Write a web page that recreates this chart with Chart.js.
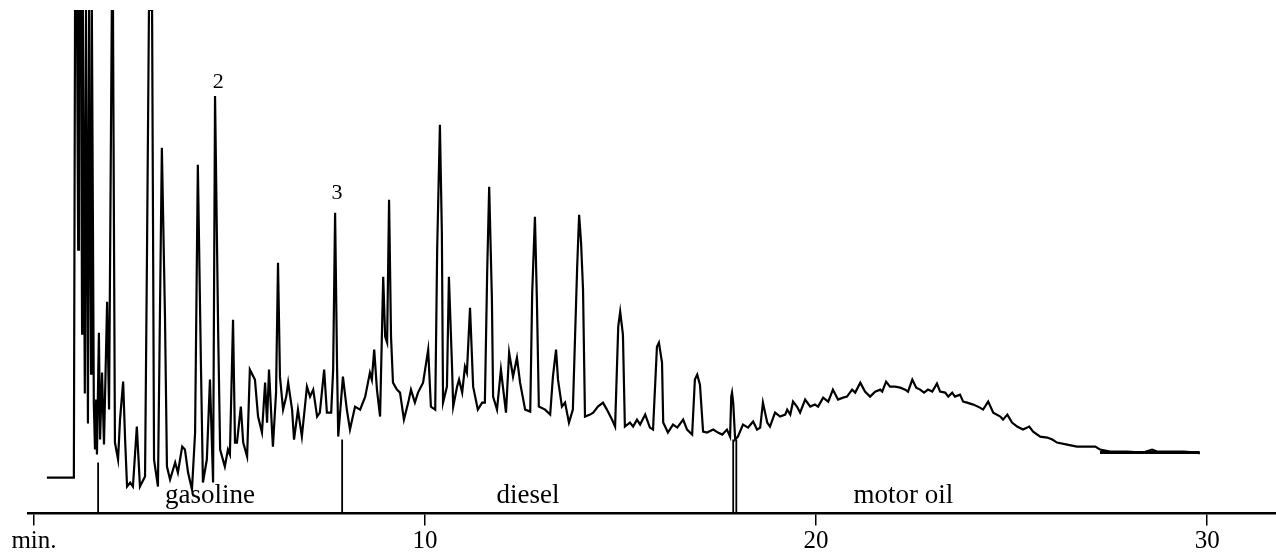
<!DOCTYPE html>
<html>
<head>
<meta charset="utf-8">
<script src="https://cdn.jsdelivr.net/npm/chart.js@4.4.1/dist/chart.umd.min.js"></script>
<style>
  html, body { margin: 0; padding: 0; background: #fff; }
  canvas { display: block; }
</style>
</head>
<body>
<canvas id="myChart" width="1276" height="557"></canvas>
<script>
// retention time (min) / detector response
var times = [
    0.33, 1.00, 1.02, 1.05, 1.10, 1.13, 1.15, 1.20, 1.23, 1.25,
    1.30, 1.33, 1.38, 1.41, 1.46, 1.48, 1.53, 1.56, 1.59, 1.61,
    1.66, 1.69, 1.74, 1.79, 1.87, 1.92, 1.99, 2.02, 2.07, 2.15,
    2.20, 2.28, 2.33, 2.38, 2.46, 2.53, 2.63, 2.71, 2.84, 2.89,
    2.94, 3.02, 3.07, 3.17, 3.27, 3.35, 3.40, 3.48, 3.61, 3.68,
    3.79, 3.86, 3.94, 4.04, 4.12, 4.19, 4.27, 4.32, 4.42, 4.50,
    4.58, 4.63, 4.71, 4.76, 4.88, 4.96, 5.01, 5.09, 5.14, 5.19,
    5.29, 5.35, 5.45, 5.52, 5.65, 5.73, 5.83, 5.91, 5.96, 6.01,
    6.09, 6.11, 6.19, 6.24, 6.29, 6.37, 6.45, 6.50, 6.60, 6.65,
    6.75, 6.85, 6.98, 7.06, 7.14, 7.24, 7.31, 7.42, 7.49, 7.60,
    7.65, 7.70, 7.75, 7.78, 7.90, 8.00, 8.08, 8.21, 8.34, 8.47,
    8.59, 8.64, 8.70, 8.77, 8.85, 8.93, 8.98, 9.03, 9.08, 9.13,
    9.18, 9.28, 9.36, 9.46, 9.57, 9.64, 9.74, 9.82, 9.95, 10.08,
    10.15, 10.26, 10.31, 10.38, 10.43, 10.46, 10.56, 10.61, 10.69, 10.72,
    10.82, 10.87, 10.95, 11.02, 11.07, 11.15, 11.23, 11.35, 11.46, 11.53,
    11.59, 11.64, 11.71, 11.74, 11.84, 11.94, 12.00, 12.07, 12.15, 12.25,
    12.35, 12.43, 12.56, 12.69, 12.74, 12.81, 12.86, 12.91, 13.07, 13.20,
    13.27, 13.35, 13.40, 13.50, 13.58, 13.68, 13.78, 13.89, 13.94, 13.99,
    14.04, 14.09, 14.22, 14.30, 14.42, 14.55, 14.65, 14.78, 14.86, 14.94,
    14.99, 15.06, 15.11, 15.24, 15.32, 15.42, 15.50, 15.63, 15.75, 15.83,
    15.93, 15.98, 16.06, 16.09, 16.21, 16.34, 16.45, 16.60, 16.70, 16.83,
    16.90, 16.96, 17.03, 17.11, 17.21, 17.37, 17.49, 17.60, 17.72, 17.80,
    17.83, 17.85, 17.88, 17.93, 18.00, 18.13, 18.26, 18.39, 18.49, 18.57,
    18.64, 18.75, 18.82, 18.95, 19.08, 19.21, 19.26, 19.34, 19.41, 19.51,
    19.59, 19.72, 19.85, 19.97, 20.05, 20.18, 20.31, 20.43, 20.56, 20.69,
    20.79, 20.92, 21.00, 21.13, 21.25, 21.38, 21.51, 21.64, 21.69, 21.79,
    21.89, 22.02, 22.15, 22.28, 22.35, 22.46, 22.56, 22.66, 22.76, 22.86,
    22.97, 23.09, 23.17, 23.30, 23.38, 23.48, 23.55, 23.68, 23.76, 23.86,
    24.02, 24.19, 24.27, 24.40, 24.53, 24.71, 24.78, 24.89, 25.01, 25.14,
    25.29, 25.45, 25.55, 25.73, 25.91, 26.04, 26.16, 26.42, 26.67, 26.93,
    27.14, 27.26, 27.52, 27.95, 28.36, 28.59, 28.72, 28.98, 29.39, 29.74,
    29.81
];
var response = [
    36, 36, 42, 504, 504, 264, 504, 504, 180, 504,
    120, 504, 90, 504, 140, 504, 110, 64, 114, 59,
    181, 74, 141, 69, 212, 104, 504, 504, 71, 54,
    94, 132, 74, 27, 31, 27, 87, 27, 37, 261,
    504, 504, 54, 27, 366, 197, 47, 34, 51, 41,
    67, 64, 41, 24, 81, 349, 147, 31, 54, 134,
    31, 418, 181, 64, 47, 64, 59, 194, 71, 71,
    107, 71, 57, 144, 134, 97, 81, 131, 91, 144,
    81, 67, 121, 251, 137, 104, 117, 131, 104, 74,
    104, 77, 127, 117, 124, 97, 101, 144, 101, 101,
    144, 301, 147, 77, 137, 104, 84, 107, 104, 117,
    141, 134, 164, 124, 97, 237, 177, 171, 314, 177,
    131, 124, 121, 94, 111, 124, 111, 121, 131, 164,
    107, 104, 264, 389, 281, 111, 127, 237, 147, 107,
    127, 134, 121, 147, 141, 206, 127, 104, 111, 111,
    244, 327, 214, 117, 104, 144, 124, 101, 161, 137,
    156, 131, 104, 102, 221, 297, 214, 107, 104, 99,
    137, 164, 134, 107, 111, 91, 104, 247, 299, 271,
    224, 97, 99, 101, 107, 111, 104, 94, 87, 187,
    202, 179, 87, 91, 87, 94, 89, 99, 86, 84,
    167, 171, 151, 91, 81, 89, 86, 94, 84, 79,
    134, 139, 129, 82, 81, 84, 81, 79, 84, 77,
    117, 121, 111, 74, 77, 89, 86, 92, 84, 86,
    111, 91, 87, 101, 97, 99, 104, 99, 112, 107,
    101, 114, 107, 109, 107, 116, 112, 124, 114, 116,
    117, 124, 121, 131, 122, 117, 122, 124, 122, 132,
    127, 127, 126, 124, 122, 134, 126, 124, 121, 124,
    122, 130, 122, 121, 117, 121, 117, 119, 112, 111,
    109, 106, 104, 112, 101, 97, 94, 99, 91, 87,
    84, 87, 82, 77, 76, 74, 71, 69, 67, 67,
    67, 64, 62, 62, 61, 64, 62, 62, 62, 61,
    60
];

var tickValues = [0, 10, 20, 30];

// fraction cut lines (motor oil cut is a double line)
var cutTimes = [1.64, 7.88, 17.88, 17.96];
var cutTops = [51, 74, 74, 74];

var regionNames = ['gasoline', 'diesel', 'motor oil'];
var regionLabelAt = [4.50, 12.63, 22.23];
var regionLabelLevel = 11;

var peakNames = ['2', '3'];
var peakTimes = [4.71, 7.75];
var peakLabelLevel = [426, 315];

var baselineTimes = [27.26, 29.81];
var baselineLevel = [61, 61];


var trace = times.map(function(t, i){ return {x: t, y: response[i]}; });

var datasets = [{
    data: trace,
    borderColor: '#000',
    borderWidth: 2.2,
    pointRadius: 0,
    tension: 0
}];

cutTimes.forEach(function(t, i){
    datasets.push({
        data: [{x: t, y: 0}, {x: t, y: cutTops[i]}],
        borderColor: '#000',
        borderWidth: 1.8,
        pointRadius: 0
    });
});

datasets.push({
    data: baselineTimes.map(function(t, i){ return {x: t, y: baselineLevel[i]}; }),
    borderColor: '#000',
    borderWidth: 3,
    pointRadius: 0
});

var textPlugin = {
    id: 'chromLabels',
    afterDatasetsDraw: function(chart){
        var ctx = chart.ctx;
        var xs = chart.scales.x, ys = chart.scales.y;
        ctx.save();
        ctx.fillStyle = '#000';
        ctx.textAlign = 'center';
        ctx.textBaseline = 'alphabetic';
        ctx.font = '27px "Liberation Serif"';
        regionNames.forEach(function(name, i){
            ctx.fillText(name, xs.getPixelForValue(regionLabelAt[i]), ys.getPixelForValue(regionLabelLevel));
        });
        ctx.font = '22px "Liberation Serif"';
        peakNames.forEach(function(name, i){
            ctx.fillText(name, xs.getPixelForValue(peakTimes[i]), ys.getPixelForValue(peakLabelLevel[i]));
        });
        ctx.restore();
    }
};

var ctx = document.getElementById('myChart').getContext('2d');
var myChart = new Chart(ctx, {
    type: 'line',
    data: { datasets: datasets },
    options: {
        responsive: false,
        animation: false,
        devicePixelRatio: 1,
        layout: { padding: { left: 28, top: 10, right: 0, bottom: 0 } },
        plugins: { legend: { display: false }, tooltip: { enabled: false } },
        scales: {
            x: {
                type: 'linear',
                min: -0.153,
                max: 31.76,
                afterBuildTicks: function(scale){
                    scale.ticks = tickValues.map(function(v){ return {value: v}; });
                },
                grid: {
                    drawOnChartArea: false,
                    drawTicks: true,
                    tickLength: 12,
                    color: '#000',
                    lineWidth: 1.5
                },
                border: { display: true, color: '#000', width: 2.5 },
                ticks: {
                    color: '#000',
                    padding: 2,
                    maxRotation: 0,
                    autoSkip: false,
                    font: { family: '"Liberation Serif"', size: 25, lineHeight: 1.1 },
                    callback: function(v){ return v === 0 ? 'min.' : v; }
                }
            },
            y: {
                type: 'linear',
                display: false,
                min: 0,
                max: 504
            }
        }
    },
    plugins: [textPlugin]
});
</script>
</body>
</html>
